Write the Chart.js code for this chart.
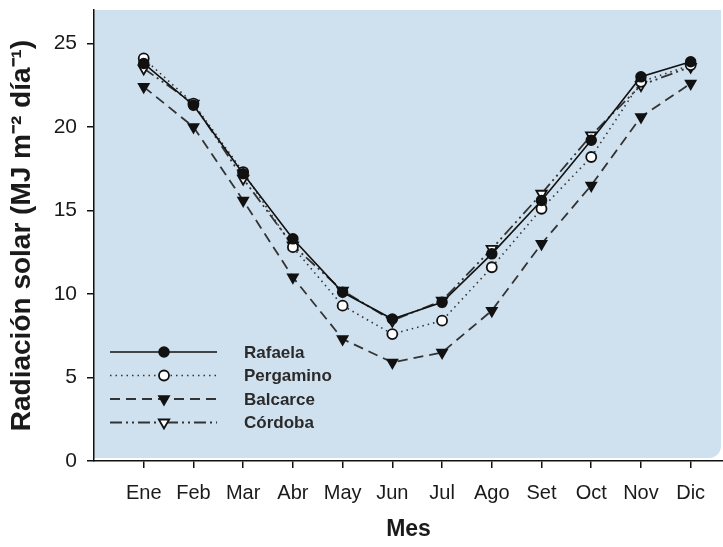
<!DOCTYPE html>
<html>
<head>
<meta charset="utf-8">
<script src="https://cdn.jsdelivr.net/npm/chart.js@4/dist/chart.umd.min.js"></script>
<style>
  body { margin: 0; background: #fff; }
  canvas { display: block; }
</style>
</head>
<body>
<canvas id="lineChart" width="723" height="547"></canvas>
<script>
const meses = ["Ene", "Feb", "Mar", "Abr", "May", "Jun", "Jul", "Ago", "Set", "Oct", "Nov", "Dic"];
const yTicks = [0, 5, 10, 15, 20, 25];

const rafaela   = [23.8, 21.3, 17.2, 13.3, 10.1, 8.5, 9.5, 12.4, 15.6, 19.2, 23.0, 23.9];
const pergamino = [24.1, 21.4, 17.3, 12.8, 9.3, 7.6, 8.4, 11.6, 15.1, 18.2, 22.7, 23.7];
const balcarce  = [22.4, 20.0, 15.6, 11.0, 7.3, 5.9, 6.5, 9.0, 13.0, 16.5, 20.6, 22.6];
const cordoba   = [23.5, 21.4, 16.9, 12.9, 10.2, 8.4, 9.6, 12.7, 16.0, 19.5, 22.5, 23.6];

const toPts = arr => arr.map((v, i) => ({ x: i, y: v }));

// fondo celeste del area del grafico
const fondo = {
  id: 'fondo',
  beforeDraw(chart) {
    const { ctx, chartArea: a } = chart;
    ctx.save();
    ctx.fillStyle = '#fff';
    ctx.fillRect(0, 0, chart.width, chart.height);
    ctx.fillStyle = '#cfe0ee';
    ctx.beginPath();
    ctx.roundRect(a.left, a.top, a.right - a.left - 2, a.bottom - a.top - 3, [0, 0, 12, 0]);
    ctx.fill();
    ctx.restore();
  }
};

// leyenda con linea + marcador dentro del grafico
const leyenda = {
  id: 'leyenda',
  afterDatasetsDraw(chart) {
    const { ctx, chartArea: a } = chart;
    const x0 = a.left + 16, x1 = a.left + 123, xm = a.left + 70, xt = a.left + 150;
    chart.data.datasets.forEach((ds, i) => {
      const y = a.top + 342 + i * 23.5;
      ctx.save();
      ctx.strokeStyle = ds.borderColor;
      ctx.lineWidth = ds.borderWidth;
      ctx.setLineDash(ds.borderDash || []);
      ctx.beginPath();
      ctx.moveTo(x0, y);
      ctx.lineTo(x1, y);
      ctx.stroke();
      ctx.setLineDash([]);
      ctx.fillStyle = ds.pointBackgroundColor;
      ctx.strokeStyle = ds.pointBorderColor;
      ctx.lineWidth = ds.pointBorderWidth;
      Chart.helpers.drawPoint(ctx, {
        pointStyle: ds.pointStyle,
        rotation: ds.pointRotation || 0,
        radius: ds.pointRadius,
        borderWidth: ds.pointBorderWidth
      }, xm, y);
      ctx.fillStyle = '#2a2a2a';
      ctx.font = 'bold 17px "Liberation Sans", Arial, sans-serif';
      ctx.textBaseline = 'middle';
      ctx.fillText(ds.label, xt, y + 1);
      ctx.restore();
    });
  }
};

const ctx = document.getElementById('lineChart').getContext('2d');

new Chart(ctx, {
  type: 'line',
  data: {
    datasets: [
      {
        label: 'Rafaela', data: toPts(rafaela),
        borderColor: '#111', borderWidth: 1.6,
        pointStyle: 'circle', pointRadius: 5,
        pointBackgroundColor: '#111', pointBorderColor: '#111', pointBorderWidth: 1.5
      },
      {
        label: 'Pergamino', data: toPts(pergamino),
        borderColor: '#333', borderWidth: 1.6, borderDash: [1.5, 4],
        pointStyle: 'circle', pointRadius: 5,
        pointBackgroundColor: '#fff', pointBorderColor: '#111', pointBorderWidth: 1.8
      },
      {
        label: 'Balcarce', data: toPts(balcarce),
        borderColor: '#333', borderWidth: 1.8, borderDash: [10, 6],
        pointStyle: 'triangle', pointRotation: 180, pointRadius: 6,
        pointBackgroundColor: '#111', pointBorderColor: '#111', pointBorderWidth: 1.5
      },
      {
        label: 'Córdoba', data: toPts(cordoba),
        borderColor: '#333', borderWidth: 1.8, borderDash: [12, 4, 2, 4, 2, 4],
        pointStyle: 'triangle', pointRotation: 180, pointRadius: 6,
        pointBackgroundColor: '#fff', pointBorderColor: '#111', pointBorderWidth: 1.8
      }
    ]
  },
  options: {
    responsive: false,
    animation: false,
    devicePixelRatio: 1,
    layout: { autoPadding: false, padding: { top: 10, right: 0, left: 0, bottom: 0 } },
    elements: { line: { tension: 0 } },
    plugins: {
      legend: { display: false },
      tooltip: { enabled: false }
    },
    scales: {
      x: {
        type: 'linear',
        min: -1,
        max: 11.65,
        afterFit: s => { s.height = 86; s.paddingLeft = 0; s.paddingRight = 0; },
        afterBuildTicks: s => { s.ticks = meses.map((m, i) => ({ value: i })); },
        border: { color: '#111', width: 1.5 },
        grid: { drawOnChartArea: false, tickLength: 7, color: '#111', lineWidth: 1.5 },
        ticks: {
          autoSkip: false, maxRotation: 0, padding: 13,
          color: '#1a1a1a',
          font: { family: '"Liberation Sans", Arial, sans-serif', size: 20 },
          callback: v => meses[v]
        },
        title: {
          display: true, text: 'Mes', color: '#1a1a1a',
          font: { family: '"Liberation Sans", Arial, sans-serif', size: 23, weight: 'bold' },
          padding: { top: 0, bottom: 4 }
        }
      },
      y: {
        min: 0,
        max: 27,
        afterFit: s => { s.width = 94; s.paddingTop = 0; s.paddingBottom = 0; },
        afterBuildTicks: s => { s.ticks = yTicks.map(v => ({ value: v })); },
        border: { color: '#111', width: 1.5 },
        grid: { drawOnChartArea: false, tickLength: 7, color: '#111', lineWidth: 1.5 },
        ticks: {
          padding: 10, color: '#1a1a1a',
          font: { family: '"Liberation Sans", Arial, sans-serif', size: 21 }
        },
        title: {
          display: true, text: 'Radiación solar (MJ m⁻² día⁻¹)', color: '#1a1a1a',
          font: { family: '"Liberation Sans", Arial, sans-serif', size: 28, weight: 'bold' },
          padding: { top: 5, bottom: 0 }
        }
      }
    }
  },
  plugins: [fondo, leyenda]
});
</script>
</body>
</html>
